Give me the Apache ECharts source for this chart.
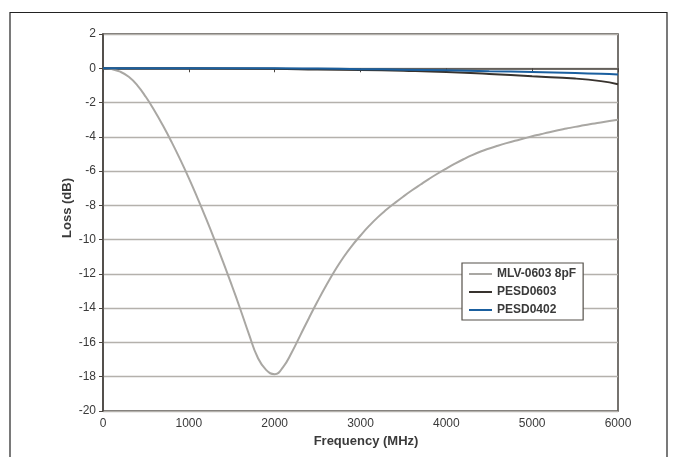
<!DOCTYPE html>
<html>
<head>
<meta charset="utf-8">
<script src="https://cdn.jsdelivr.net/npm/echarts@6/dist/echarts.min.js"></script>
<style>
html,body{margin:0;padding:0;background:#fff;}
#c{width:676px;height:457px;}
</style>
</head>
<body>
<div id="c"></div>
<script>
var seriesNames = ['MLV-0603 8pF', 'PESD0603', 'PESD0402'];
var xTicks = [0, 1000, 2000, 3000, 4000, 5000, 6000];
var yTicks = [2, 0, -2, -4, -6, -8, -10, -12, -14, -16, -18, -20];

var freqMLV = [0,100,200,300,400,500,600,700,800,900,1000,1100,1200,1300,1400,1500,1600,1700,1800,1900,2000,2100,2200,2300,2400,2500,2600,2700,2800,2900,3000,3100,3200,3300,3400,3500,3600,3700,3800,3900,4000,4100,4200,4300,4400,4500,4600,4700,4800,4900,5000,5100,5200,5300,5400,5500,5600,5700,5800,5900,6000];
var lossMLV = [0,-0.05,-0.2,-0.5,-1.0,-1.68,-2.48,-3.36,-4.31,-5.33,-6.41,-7.56,-8.76,-10.01,-11.31,-12.66,-14.06,-15.51,-16.85,-17.6,-17.85,-17.42,-16.57,-15.57,-14.57,-13.6,-12.68,-11.82,-11.04,-10.36,-9.76,-9.2,-8.7,-8.26,-7.86,-7.48,-7.12,-6.78,-6.45,-6.14,-5.85,-5.57,-5.31,-5.07,-4.86,-4.68,-4.52,-4.37,-4.23,-4.1,-3.97,-3.85,-3.73,-3.62,-3.52,-3.42,-3.33,-3.24,-3.16,-3.08,-3.0];

var freqPESD = [0,1000,2000,2500,3000,3500,4000,4500,5000,5500,5800,6000];
var loss0603 = [0,0,-0.03,-0.07,-0.1,-0.15,-0.22,-0.33,-0.47,-0.6,-0.75,-0.93];
var loss0402 = [0,0,0,-0.02,-0.05,-0.08,-0.12,-0.17,-0.22,-0.28,-0.32,-0.36];

function pairs(xs, ys){ return xs.map(function(x,i){ return [x, ys[i]]; }); }

var FONT = '"Liberation Sans", Arial, sans-serif';
var TXT = '#3a3a3a';
var chart = echarts.init(document.getElementById('c'), null, {renderer:'canvas'});
chart.setOption({
  animation: false,
  backgroundColor: '#ffffff',
  textStyle: {fontFamily: FONT},
  grid: {left: 103, right: 58, top: 34, bottom: 46, show: true, borderColor: '#4a4540', borderWidth: 1.5, backgroundColor: 'transparent'},
  xAxis: {
    type: 'value', min: xTicks[0], max: xTicks[xTicks.length-1], interval: 1000,
    axisLine: {show: true, lineStyle: {color: '#4a4540', width: 1.5}},
    axisTick: {show: true, length: 4, lineStyle: {color: '#4a4540'}},
    axisLabel: {color: TXT, fontSize: 12, fontFamily: FONT, margin: 7, formatter: function(v){ return String(v); }},
    splitLine: {show: false}
  },
  yAxis: {
    type: 'value', min: yTicks[yTicks.length-1], max: yTicks[0], interval: 2,
    axisLine: {show: true, lineStyle: {color: '#4a4540', width: 1.5}},
    axisTick: {show: true, length: 4, lineStyle: {color: '#4a4540'}},
    axisLabel: {color: TXT, fontSize: 12, fontFamily: FONT, margin: 7, formatter: function(v){ return String(v); }},
    splitLine: {show: true, lineStyle: {color: '#b4b1ac', width: 1.3}}
  },
  legend: {
    show: true, orient: 'vertical', left: 462, top: 263,
    data: seriesNames,
    icon: 'rect', itemWidth: 23, itemHeight: 2, itemGap: 4,
    padding: [4, 7, 3, 7],
    backgroundColor: '#ffffff', borderColor: '#55504a', borderWidth: 1.2,
    textStyle: {color: TXT, fontSize: 12, fontWeight: 'bold', fontFamily: FONT, lineHeight: 14}
  },
  graphic: [
    {type: 'rect', silent: true, z: -10, shape: {x: 10, y: 12.5, width: 657, height: 470}, style: {fill: 'none', stroke: '#222', lineWidth: 1.2}},
    {type: 'text', silent: true, x: 366, y: 441, style: {text: 'Frequency (MHz)', fill: TXT, font: 'bold 13px ' + FONT, textAlign: 'center', textVerticalAlign: 'middle'}},
    {type: 'text', silent: true, x: 67, y: 208, rotation: Math.PI/2, style: {text: 'Loss (dB)', fill: TXT, font: 'bold 13px ' + FONT, textAlign: 'center', textVerticalAlign: 'middle'}}
  ],
  series: [
    {name: seriesNames[0], type: 'line', data: pairs(freqMLV, lossMLV), showSymbol: false, symbol: 'none', smooth: 0.5,
     lineStyle: {color: '#a9a7a3', width: 2}, itemStyle: {color: '#a9a7a3'}, z: 2},
    {name: seriesNames[1], type: 'line', data: pairs(freqPESD, loss0603), showSymbol: false, symbol: 'none', smooth: 0.5,
     lineStyle: {color: '#38332e', width: 2}, itemStyle: {color: '#38332e'}, z: 3},
    {name: seriesNames[2], type: 'line', data: pairs(freqPESD, loss0402), showSymbol: false, symbol: 'none', smooth: 0.5,
     lineStyle: {color: '#1a5f9f', width: 2}, itemStyle: {color: '#1a5f9f'}, z: 4}
  ]
});
</script>
</body>
</html>
